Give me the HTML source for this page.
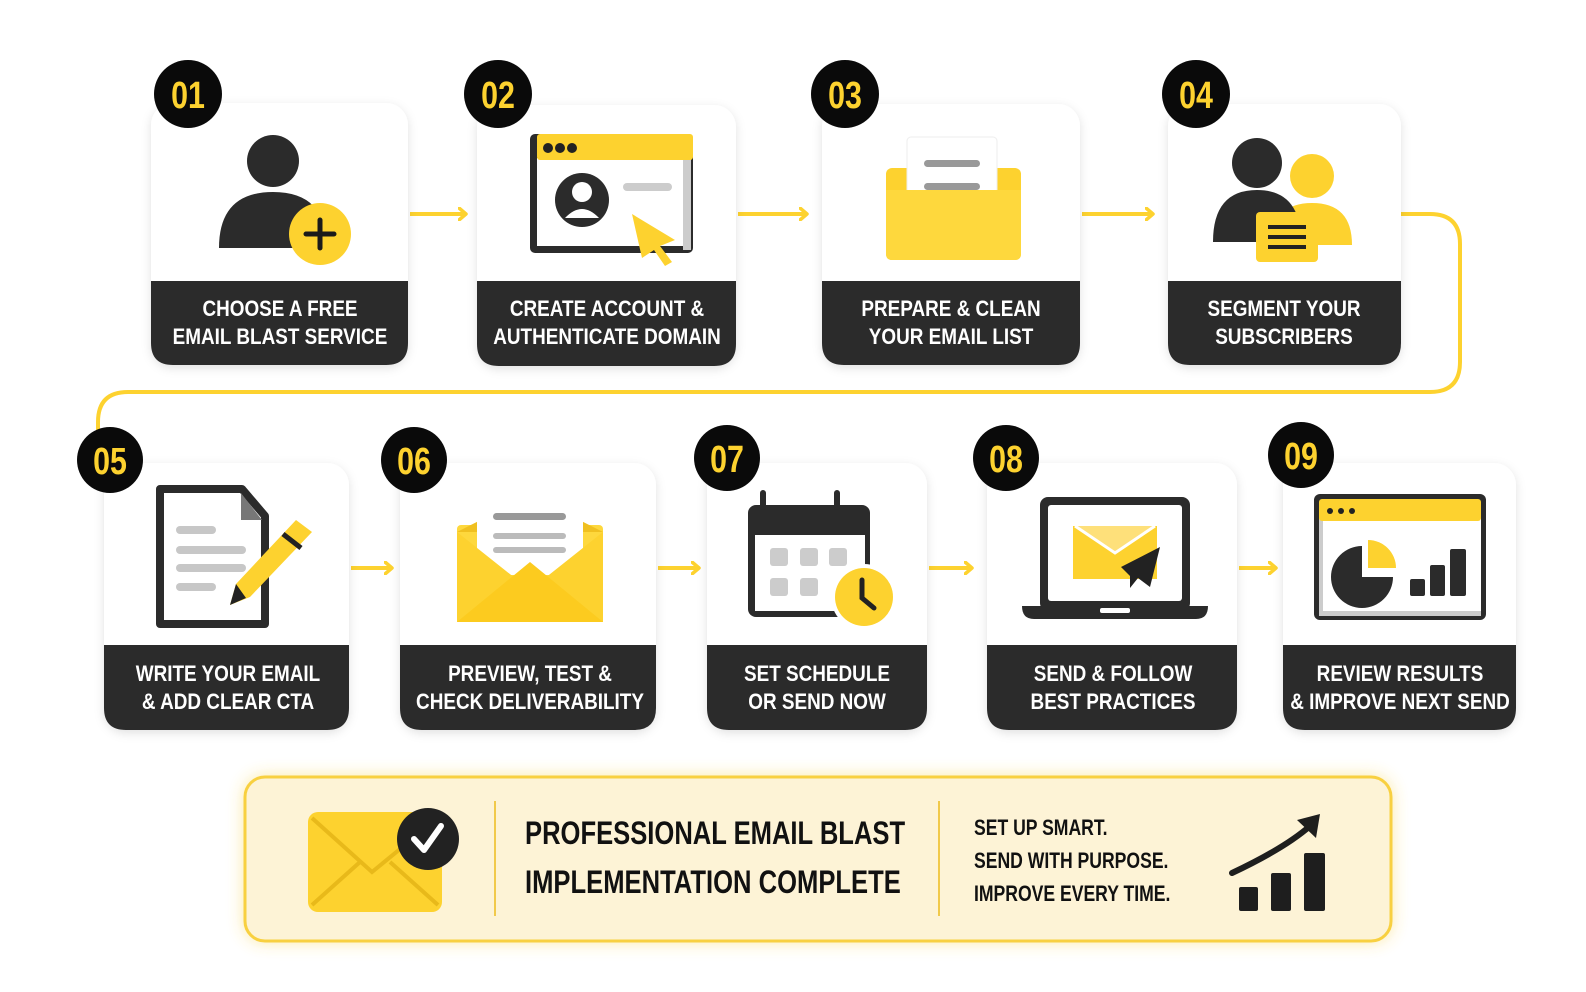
<!DOCTYPE html>
<html><head><meta charset="utf-8"><style>
html,body{margin:0;padding:0;background:#fff;}
svg{display:block}
text{font-family:"Liberation Sans Narrow","Liberation Sans",sans-serif;font-weight:bold;transform-box:fill-box;transform-origin:center;transform:scaleX(.86);}
text.l{transform-origin:left center;}
text.b{transform:scaleX(.8);}
</style></head><body>
<svg width="1586" height="992" viewBox="0 0 1586 992" xmlns="http://www.w3.org/2000/svg">
<defs>
<filter id="sh" x="-10%" y="-10%" width="120%" height="130%"><feDropShadow dx="0" dy="3" stdDeviation="5" flood-color="#000" flood-opacity="0.12"/></filter>
<filter id="glow" x="-5%" y="-20%" width="110%" height="140%"><feDropShadow dx="0" dy="0" stdDeviation="8" flood-color="#f7cf3a" flood-opacity="0.45"/></filter>
<marker id="ar" markerWidth="10" markerHeight="14" refX="8" refY="7" orient="auto" markerUnits="userSpaceOnUse"><path d="M1 1 L8 7 L1 13" fill="none" stroke="#fdd22f" stroke-width="3.5" stroke-linecap="round" stroke-linejoin="round"/></marker>
</defs>

<path d="M1401 214 H1430 Q1460 214 1460 244 V362 Q1460 392 1430 392 H128 Q98 392 98 422 V432" fill="none" stroke="#fdd22f" stroke-width="4"/>

<g stroke="#fdd22f" stroke-width="4" marker-end="url(#ar)">
<line x1="410" y1="214" x2="466" y2="214"/>
<line x1="738" y1="214" x2="807" y2="214"/>
<line x1="1082" y1="214" x2="1153" y2="214"/>
<line x1="351" y1="568" x2="392" y2="568"/>
<line x1="658" y1="568" x2="699" y2="568"/>
<line x1="929" y1="568" x2="972" y2="568"/>
<line x1="1239" y1="568" x2="1276" y2="568"/>
</g>

<g filter="url(#sh)">
<rect x="151" y="103" width="257" height="262" rx="22" fill="#fff"/>
<rect x="477" y="105" width="259" height="261" rx="22" fill="#fff"/>
<rect x="822" y="104" width="258" height="261" rx="22" fill="#fff"/>
<rect x="1168" y="104" width="233" height="261" rx="22" fill="#fff"/>
<rect x="104" y="463" width="245" height="267" rx="22" fill="#fff"/>
<rect x="400" y="463" width="256" height="267" rx="22" fill="#fff"/>
<rect x="707" y="463" width="220" height="267" rx="22" fill="#fff"/>
<rect x="987" y="463" width="250" height="267" rx="22" fill="#fff"/>
<rect x="1283" y="463" width="233" height="267" rx="22" fill="#fff"/>
</g>
<g fill="#2b2b2b">
<path d="M151 281 H408 V343 Q408 365 386 365 H173 Q151 365 151 343 Z"/>
<path d="M477 281 H736 V344 Q736 366 714 366 H499 Q477 366 477 344 Z"/>
<path d="M822 281 H1080 V343 Q1080 365 1058 365 H844 Q822 365 822 343 Z"/>
<path d="M1168 281 H1401 V343 Q1401 365 1379 365 H1190 Q1168 365 1168 343 Z"/>
<path d="M104 645 H349 V708 Q349 730 327 730 H126 Q104 730 104 708 Z"/>
<path d="M400 645 H656 V708 Q656 730 634 730 H422 Q400 730 400 708 Z"/>
<path d="M707 645 H927 V708 Q927 730 905 730 H729 Q707 730 707 708 Z"/>
<path d="M987 645 H1237 V708 Q1237 730 1215 730 H1009 Q987 730 987 708 Z"/>
<path d="M1283 645 H1516 V708 Q1516 730 1494 730 H1305 Q1283 730 1283 708 Z"/>
</g>
<g fill="#fff" font-size="22" text-anchor="middle">
<text x="280" y="316">CHOOSE A FREE</text><text x="280" y="344">EMAIL BLAST SERVICE</text>
<text x="607" y="316">CREATE ACCOUNT &amp;</text><text x="607" y="344">AUTHENTICATE DOMAIN</text>
<text x="951" y="316">PREPARE &amp; CLEAN</text><text x="951" y="344">YOUR EMAIL LIST</text>
<text x="1284" y="316">SEGMENT YOUR</text><text x="1284" y="344">SUBSCRIBERS</text>
<text x="228" y="681">WRITE YOUR EMAIL</text><text x="228" y="709">&amp; ADD CLEAR CTA</text>
<text x="530" y="681">PREVIEW, TEST &amp;</text><text x="530" y="709">CHECK DELIVERABILITY</text>
<text x="817" y="681">SET SCHEDULE</text><text x="817" y="709">OR SEND NOW</text>
<text x="1113" y="681">SEND &amp; FOLLOW</text><text x="1113" y="709">BEST PRACTICES</text>
<text x="1400" y="681">REVIEW RESULTS</text><text x="1400" y="709">&amp; IMPROVE NEXT SEND</text>
</g>

<g fill="#0a0a0a">
<circle cx="188" cy="94" r="34"/><circle cx="498" cy="94" r="34"/><circle cx="845" cy="94" r="34"/><circle cx="1196" cy="94" r="34"/>
<circle cx="110" cy="460" r="33"/><circle cx="414" cy="460" r="33"/><circle cx="727" cy="458" r="33"/><circle cx="1006" cy="458" r="33"/><circle cx="1301" cy="455" r="33"/>
</g>
<g fill="#fdd22f" font-size="38" text-anchor="middle">
<text class="b" x="188" y="108">01</text><text class="b" x="498" y="108">02</text><text class="b" x="845" y="108">03</text><text class="b" x="1196" y="108">04</text>
<text class="b" x="110" y="474">05</text><text class="b" x="414" y="474">06</text><text class="b" x="727" y="472">07</text><text class="b" x="1006" y="472">08</text><text class="b" x="1301" y="469">09</text>
</g>

<circle cx="273" cy="161" r="26" fill="#2b2b2b"/>
<path d="M219 248 Q219 192 273 192 Q327 192 327 248 Z" fill="#2b2b2b"/>
<circle cx="320" cy="234" r="31" fill="#fdd22f"/>
<path d="M320 220 V248 M306 234 H334" stroke="#1a1a1a" stroke-width="5" stroke-linecap="round"/>

<rect x="530" y="134" width="163" height="119" rx="5" fill="#2b2b2b"/>
<rect x="537" y="158" width="154" height="88" fill="#fff"/>
<rect x="683" y="158" width="8" height="92" fill="#ccc"/>
<rect x="537" y="134" width="156" height="26" rx="3" fill="#fdd22f"/>
<circle cx="548" cy="148" r="5" fill="#222"/><circle cx="560" cy="148" r="5" fill="#222"/><circle cx="572" cy="148" r="5" fill="#222"/>
<circle cx="582" cy="200" r="27" fill="#2b2b2b"/>
<circle cx="582" cy="192" r="10" fill="#fff"/><path d="M565 218 Q582 200 599 218 Z" fill="#fff"/>
<rect x="623" y="183" width="49" height="8" rx="4" fill="#ccc"/>
<path d="M632 214 L675 240 L660 246 L672 262 L665 266 L654 250 L642 258 Z" fill="#fdd22f"/>

<rect x="886" y="168" width="135" height="92" rx="6" fill="#fdd22f"/>
<rect x="907" y="137" width="90" height="66" rx="4" fill="#fff" stroke="#eee"/>
<rect x="924" y="160" width="56" height="7" rx="3.5" fill="#999"/>
<rect x="924" y="183" width="56" height="7" rx="3.5" fill="#999"/>
<path d="M886 190 H1021 V254 Q1021 260 1015 260 H892 Q886 260 886 254 Z" fill="#fed83d"/>

<circle cx="1312" cy="176" r="22" fill="#fdd22f"/>
<path d="M1272 245 Q1272 203 1312 203 Q1352 203 1352 245 Z" fill="#fdd22f"/>
<circle cx="1257" cy="163" r="25" fill="#2b2b2b"/>
<path d="M1213 242 Q1213 190 1257 190 Q1301 190 1301 242 Z" fill="#2b2b2b"/>
<rect x="1256" y="212" width="62" height="50" rx="4" fill="#fdd22f"/>
<path d="M1268 227 H1306 M1268 237 H1306 M1268 247 H1306" stroke="#222" stroke-width="4"/>

<path d="M160 489 H242 L265 516 V624 H160 Z" fill="#fff" stroke="#2b2b2b" stroke-width="8" stroke-linejoin="round"/>
<path d="M241 493 L241 520 L262 520 Z" fill="#777"/>
<g stroke="#c7c7c7" stroke-width="8" stroke-linecap="round">
<line x1="180" y1="530" x2="212" y2="530"/><line x1="180" y1="550" x2="242" y2="550"/><line x1="180" y1="568" x2="242" y2="568"/><line x1="180" y1="587" x2="212" y2="587"/>
</g>
<path d="M296 520 L312 532 L250 597 L230 605 L236 584 Z" fill="#fdd22f"/>
<path d="M236 584 L230 605 L246 598 Z" fill="#222"/>
<path d="M283 534 L301 548" stroke="#222" stroke-width="5"/>

<rect x="457" y="525" width="146" height="97" rx="4" fill="#fed83d"/>
<path d="M457 532 L530 495 L603 532" fill="#f0c020"/>
<rect x="477" y="490" width="106" height="85" rx="4" fill="#fff"/>
<rect x="493" y="513" width="73" height="7" rx="3.5" fill="#999"/>
<rect x="493" y="533" width="73" height="6" rx="3" fill="#bbb"/>
<rect x="493" y="547" width="73" height="6" rx="3" fill="#bbb"/>
<path d="M457 532 L530 590 L603 532 V622 H457 Z" fill="#fdd22f"/>
<path d="M457 622 L530 562 L603 622 Z" fill="#fccb1f"/>

<rect x="748" y="505" width="122" height="112" rx="8" fill="#2b2b2b"/>
<rect x="755" y="535" width="110" height="76" fill="#fff"/>
<rect x="760" y="490" width="6" height="20" rx="3" fill="#2b2b2b"/><rect x="834" y="490" width="6" height="20" rx="3" fill="#2b2b2b"/>
<g fill="#ccc"><rect x="770" y="548" width="18" height="18" rx="3"/><rect x="800" y="548" width="18" height="18" rx="3"/><rect x="829" y="548" width="18" height="18" rx="3"/><rect x="770" y="578" width="18" height="18" rx="3"/><rect x="800" y="578" width="18" height="18" rx="3"/></g>
<circle cx="864" cy="597" r="33" fill="#fff"/>
<circle cx="864" cy="597" r="29" fill="#fdd22f"/>
<path d="M862 580 V598 L874 608" fill="none" stroke="#222" stroke-width="5" stroke-linecap="round"/>

<rect x="1040" y="497" width="150" height="114" rx="8" fill="#2b2b2b"/>
<rect x="1048" y="505" width="134" height="96" rx="3" fill="#fff"/>
<path d="M1022 606 H1208 Q1208 619 1196 619 H1034 Q1022 619 1022 606 Z" fill="#2b2b2b"/>
<rect x="1100" y="608" width="30" height="5" rx="2" fill="#fff"/>
<rect x="1073" y="526" width="84" height="53" fill="#fdd22f"/>
<path d="M1075 526 L1115 553 L1155 526" fill="#fee07a" stroke="#fff" stroke-width="3"/>
<path d="M1121 567 L1160 547 L1150 587 L1138 578 L1130 588 L1130 576 Z" fill="#222"/>

<rect x="1314" y="494" width="172" height="126" rx="6" fill="#2b2b2b"/>
<rect x="1319" y="518" width="162" height="97" fill="#fff"/>
<rect x="1319" y="518" width="4" height="97" fill="#ccc"/>
<rect x="1319" y="611" width="162" height="5" fill="#ccc"/>
<rect x="1319" y="499" width="162" height="22" rx="3" fill="#fdd22f"/>
<circle cx="1330" cy="511" r="3" fill="#222"/><circle cx="1341" cy="511" r="3" fill="#222"/><circle cx="1352" cy="511" r="3" fill="#222"/>
<path d="M1362 546 A31 31 0 1 0 1393 577 H1362 Z" fill="#2b2b2b"/>
<path d="M1368 540 A28 28 0 0 1 1396 568 H1368 Z" fill="#fdd22f"/>
<rect x="1410" y="579" width="15" height="17" rx="2" fill="#2b2b2b"/>
<rect x="1430" y="565" width="15" height="31" rx="2" fill="#2b2b2b"/>
<rect x="1450" y="549" width="16" height="47" rx="2" fill="#2b2b2b"/>

<rect x="245" y="777" width="1146" height="164" rx="20" fill="#fdf3d6" stroke="#f8d040" stroke-width="3" filter="url(#glow)"/>
<rect x="308" y="812" width="134" height="100" rx="10" fill="#fdd22f"/>
<path d="M312 818 L372 872 L438 818 M312 905 L360 862 M438 905 L390 862" fill="none" stroke="#e8b91a" stroke-width="4"/>
<circle cx="428" cy="839" r="31" fill="#222"/>
<path d="M414 839 L424 850 L441 826" fill="none" stroke="#fff" stroke-width="6" stroke-linecap="round" stroke-linejoin="round"/>
<line x1="495" y1="801" x2="495" y2="916" stroke="#f1c94a" stroke-width="2"/>
<line x1="939" y1="801" x2="939" y2="916" stroke="#f1c94a" stroke-width="2"/>
<g fill="#111" font-size="32"><text class="l b" x="525" y="844">PROFESSIONAL EMAIL BLAST</text><text class="l b" x="525" y="893">IMPLEMENTATION COMPLETE</text></g>
<g fill="#111" font-size="22"><text class="l b" x="974" y="835">SET UP SMART.</text><text class="l b" x="974" y="868">SEND WITH PURPOSE.</text><text class="l b" x="974" y="901">IMPROVE EVERY TIME.</text></g>
<rect x="1239" y="887" width="19" height="24" rx="2" fill="#1e1e1e"/>
<rect x="1271" y="873" width="20" height="38" rx="2" fill="#1e1e1e"/>
<rect x="1304" y="853" width="21" height="58" rx="2" fill="#1e1e1e"/>
<path d="M1232 873 Q1285 848 1310 826" fill="none" stroke="#1e1e1e" stroke-width="6" stroke-linecap="round"/>
<path d="M1297 820 L1320 814 L1316 838 Z" fill="#1e1e1e"/>
</svg>
</body></html>
